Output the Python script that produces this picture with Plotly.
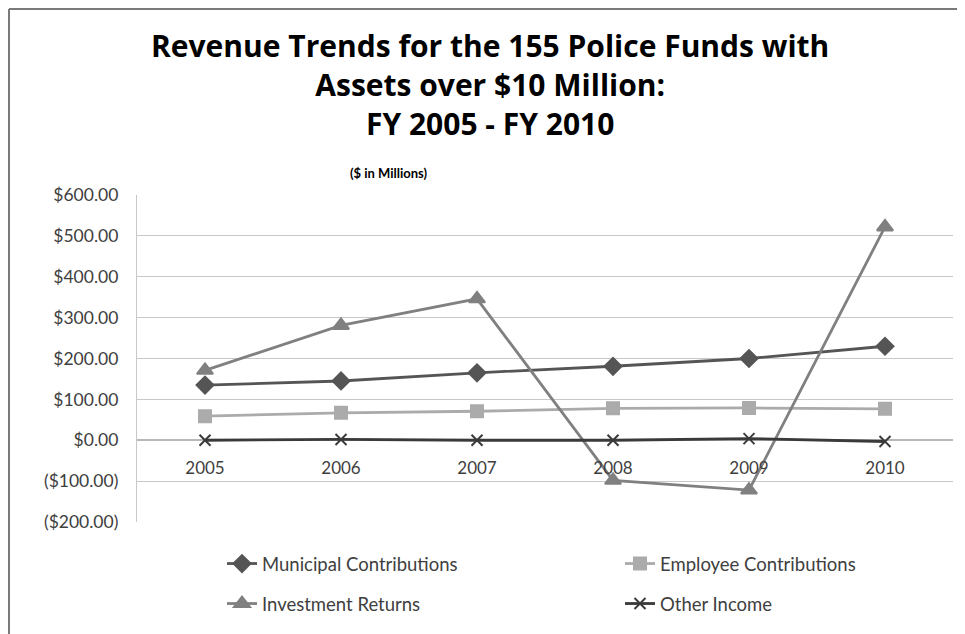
import plotly.graph_objects as go

years = ["2005", "2006", "2007", "2008", "2009", "2010"]
municipal = [135, 145, 165, 181, 200, 230]
employee = [59, 67, 71, 78, 79, 77]
investment = [171, 281, 346, -98, -122, 522]
other = [0, 2, 0, 0, 4, -3]

y_tickvals = [-200, -100, 0, 100, 200, 300, 400, 500, 600]
y_ticktext = ["($200.00)", "($100.00)", "$0.00", "$100.00", "$200.00",
              "$300.00", "$400.00", "$500.00", "$600.00"]

title_text = ("Revenue Trends for the 155 Police Funds with<br>"
              "Assets over $10 Million:<br>FY 2005 - FY 2010")
subtitle_text = "($ in Millions)"

FONT = "Lato"
TXT = "#404040"
OFF = 8                      # page body margin offset
FW, FH = 965 - OFF, 634 - OFF
# plot area in screen pixels of the reference
SL, ST, W, H = 137, 195, 816, 327
L, T = SL - OFF, ST - OFF


def px_x(p):
    return (p - SL) / W


def px_y(p):
    return (ST + H - p) / H


fig = go.Figure()
series = [
    ("Municipal Contributions", municipal, "#555555", "diamond", 13, "legend"),
    ("Employee Contributions", employee, "#ababab", "square", 12, "legend2"),
    ("Investment Returns", investment, "#808080", "triangle-up", 14, "legend3"),
    ("Other Income", other, "#3a3a3a", "x-thin", 11, "legend4"),
]
for name, vals, col, sym, sz, lg in series:
    fig.add_trace(go.Scatter(
        x=years, y=vals, name=name, mode="lines+markers", legend=lg,
        line=dict(color=col, width=2.8),
        marker=dict(symbol=sym, size=sz, color=col,
                    line=dict(color=col, width=2)),
    ))


def leg(xp, yp):
    return dict(orientation="h", xref="container", yref="container",
                x=(xp - OFF) / FW, y=1 - (yp - OFF) / FH,
                xanchor="left", yanchor="middle",
                font=dict(family=FONT, size=18.5, color=TXT),
                bgcolor="rgba(0,0,0,0)")


fig.update_layout(
    width=FW, height=FH,
    margin=dict(l=L, r=FW - L - W, t=T, b=FH - T - H),
    paper_bgcolor="white", plot_bgcolor="white",
    font=dict(family=FONT, color=TXT, size=17),
    showlegend=True,
    legend=leg(222, 564),
    legend2=leg(620, 564),
    legend3=leg(222, 604),
    legend4=leg(620, 604),
    xaxis=dict(type="category", range=[-0.5, 5.5], showgrid=False,
               anchor="free", position=0.25, showline=False, automargin=False,
               ticks="outside", ticklen=12, tickcolor="rgba(0,0,0,0)",
               tickfont=dict(family=FONT, size=17, color=TXT)),
    yaxis=dict(range=[-200, 600], tickvals=y_tickvals, ticktext=y_ticktext,
               automargin=False,
               showgrid=True, gridcolor="#c8c8c8", gridwidth=1.3,
               zeroline=True, zerolinecolor="#b8b8b8", zerolinewidth=1.5,
               showline=True, linecolor="#c8c8c8", linewidth=1.3,
               ticks="outside", ticklen=14, tickcolor="rgba(0,0,0,0)",
               tickfont=dict(family=FONT, size=17.5, color=TXT)),
)

fig.add_annotation(text=title_text, xref="paper", yref="paper",
                   x=px_x(490), y=px_y(84), xanchor="center", yanchor="middle",
                   showarrow=False, align="center",
                   font=dict(family="Open Sans", size=30, color="black",
                             weight="bold"))

fig.add_annotation(text=subtitle_text, xref="paper", yref="paper",
                   x=px_x(389), y=px_y(173),
                   xanchor="center", yanchor="middle", showarrow=False,
                   font=dict(family=FONT, size=13, color="black", weight="bold"))

# outer chart frame (top and left edges visible)
fig.add_shape(type="line", xref="paper", yref="paper",
              x0=px_x(OFF + 1), x1=px_x(975), y0=px_y(OFF + 1), y1=px_y(OFF + 1),
              line=dict(color="#7a7a7a", width=2))
fig.add_shape(type="line", xref="paper", yref="paper",
              x0=px_x(OFF + 1), x1=px_x(OFF + 1), y0=px_y(OFF + 1), y1=px_y(645),
              line=dict(color="#7a7a7a", width=2))

fig.write_html("out.html")
